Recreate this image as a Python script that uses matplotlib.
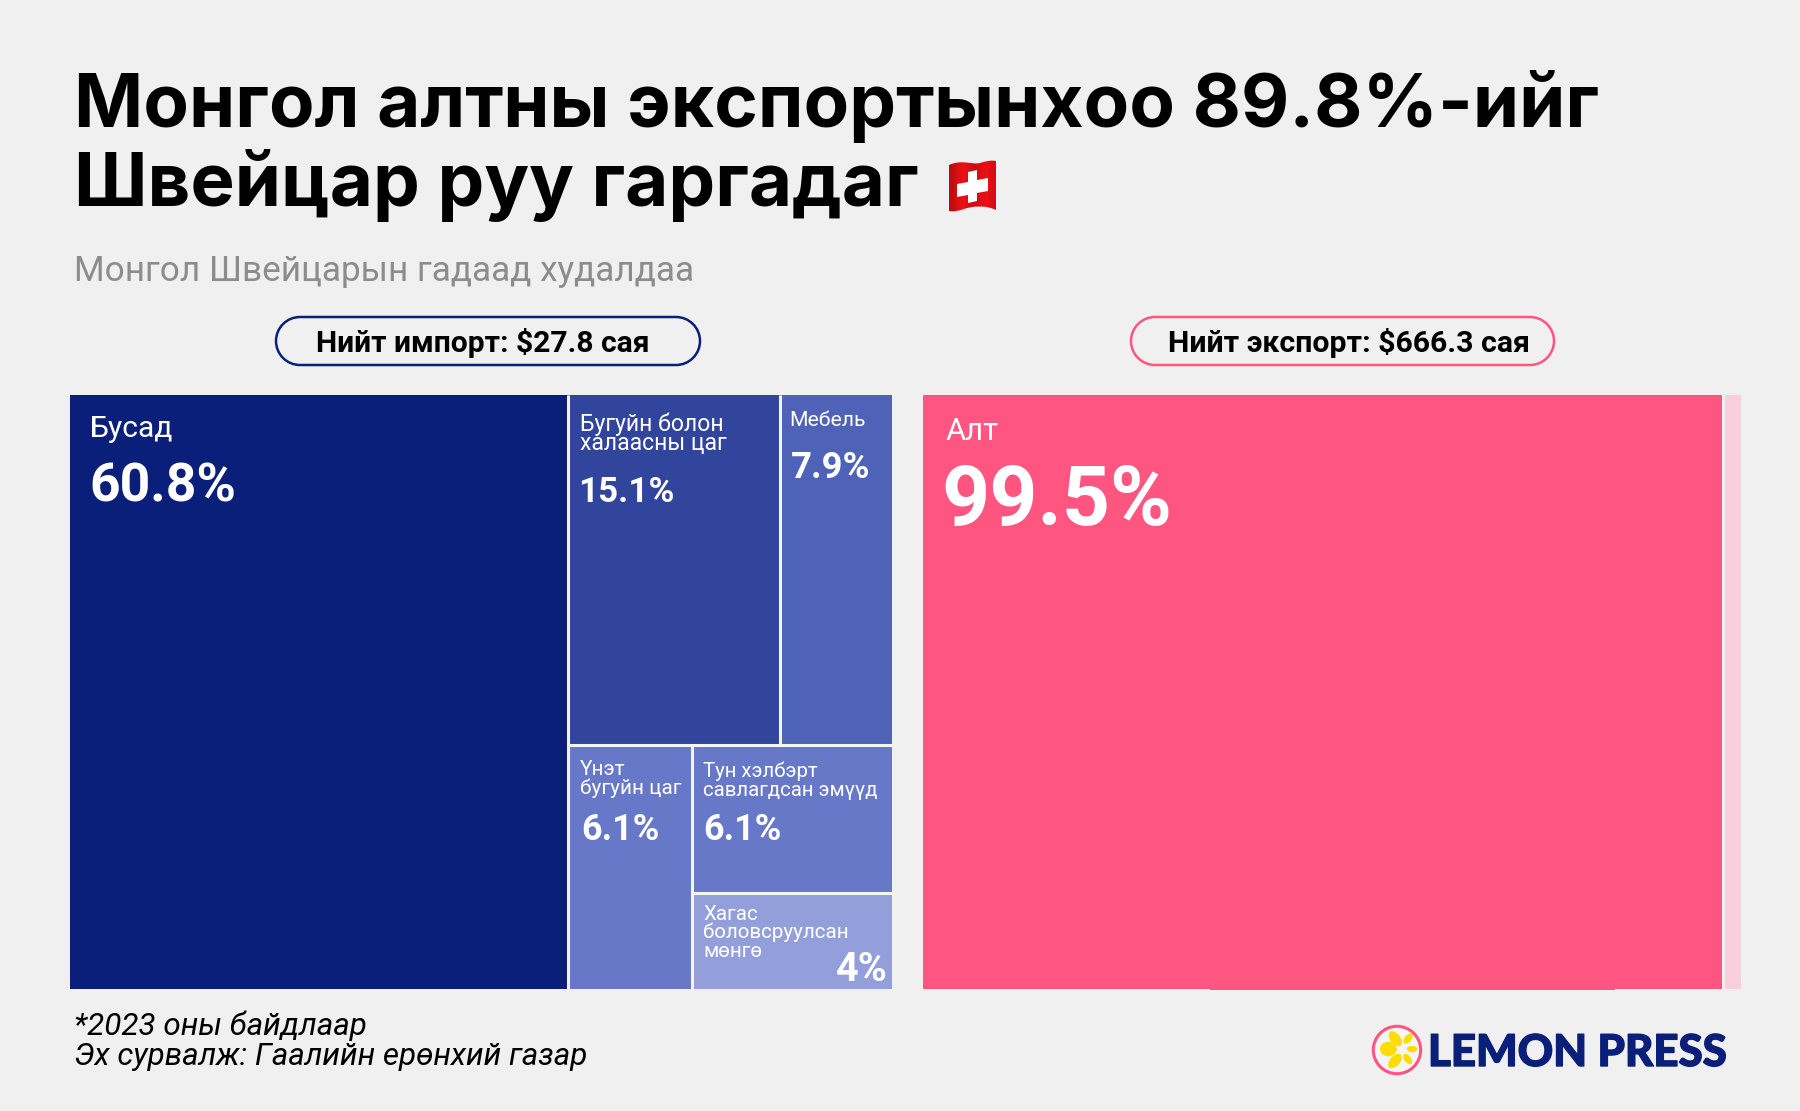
import numpy as np
import matplotlib
matplotlib.use("Agg")
import matplotlib.pyplot as plt
from matplotlib.patches import Rectangle, Circle, Ellipse, PathPatch, Polygon
from matplotlib.path import Path
import matplotlib.patheffects as pe

BG = "#F0F0F0"
NAVY = "#0A1F7A"
PINK = "#FF5580"
GAP = "#F4F4F4"

title_lines = ["Монгол алтны экспортынхоо 89.8%-ийг", "Швейцар руу гаргадаг"]
subtitle = "Монгол Швейцарын гадаад худалдаа"
import_total = "Нийт импорт: $27.8 сая"
export_total = "Нийт экспорт: $666.3 сая"
footer_lines = ["*2023 оны байдлаар", "Эх сурвалж: Гаалийн ерөнхий газар"]
logo_text = "LEMON PRESS"

import_labels = ["Бусад", "Бугуйн болон\nхалаасны цаг", "Мебель", "Үнэт\nбугуйн цаг",
                 "Тун хэлбэрт\nсавлагдсан эмүүд", "Хагас\nболовсруулсан\nмөнгө"]
import_values = [60.8, 15.1, 7.9, 6.1, 6.1, 4.0]
import_colors = ["#0A1F7A", "#30459B", "#4E62B8", "#6778C8", "#6778C8", "#939FDA"]

export_label = "Алт"
export_value = 99.5
export_drawn_widths = [97.8, 2.2]   # as drawn in the picture
export_colors = [PINK, "#F8CFDA"]

fig = plt.figure(figsize=(18, 11.11), dpi=100, facecolor=BG)
ax = fig.add_axes([0, 0, 1, 1])
ax.set_xlim(0, 1800)
ax.set_ylim(1111, 0)
ax.axis("off")


def T(x, y, s, px, weight="normal", color="black", ha="left", style="normal", family="Roboto", lead=None, **kw):
    """Text with font size in pixels, y = baseline of first line."""
    for i, line in enumerate(s.split("\n")):
        ax.text(x, y + i * (lead or px), line, fontsize=px * 0.72, fontweight=weight, color=color,
                ha=ha, va="baseline", style=style, family=family, **kw)


def pill(x0, x1, y0, y1, color):
    r = (y1 - y0) / 2
    k = 0.5523 * r
    verts = [(x0 + r, y0), (x1 - r, y0),
             (x1 - r + k, y0), (x1, y0 + r - k), (x1, y0 + r),
             (x1, y0 + r + k), (x1 - r + k, y1), (x1 - r, y1),
             (x0 + r, y1),
             (x0 + r - k, y1), (x0, y0 + r + k), (x0, y0 + r),
             (x0, y0 + r - k), (x0 + r - k, y0), (x0 + r, y0), (x0 + r, y0)]
    codes = [Path.MOVETO, Path.LINETO] + [Path.CURVE4] * 6 + [Path.LINETO] + [Path.CURVE4] * 6 + [Path.CLOSEPOLY]
    ax.add_patch(PathPatch(Path(verts, codes), fc="none", ec=color, lw=1.8))


# Title, subtitle
T(74, 127, title_lines[0], 74.4, "bold", family="Inter")
T(74, 206, title_lines[1], 74.4, "bold", family="Inter")
T(74, 281, subtitle, 35.1, color="#8C8C8C")

# Pills
pill(276, 700, 317, 365, NAVY)
T(483, 352, import_total, 30, "bold", ha="center")
pill(1131, 1554, 317, 365, PINK)
T(1349.5, 352, export_total, 30.2, "bold", ha="center")

# Import treemap: computed from values
L, R, TOP, BOT = 70, 892, 395, 989
W, H = R - L, BOT - TOP
tot = sum(import_values)
v = import_values
x1 = L + W * v[0] / tot - 1.3
rest = tot - v[0]
ymid = TOP + H * (v[1] + v[2]) / rest + 1.5
xtop = x1 + (R - x1) * v[1] / (v[1] + v[2]) - 0.5
xbot = x1 + (R - x1) * v[3] / (v[3] + v[4] + v[5]) + 1.3
ylow = ymid + (BOT - ymid) * v[4] / (v[4] + v[5]) + 1
rects = [(L, TOP, x1, BOT), (x1, TOP, xtop, ymid), (xtop, TOP, R, ymid),
         (x1, ymid, xbot, BOT), (xbot, ymid, R, ylow), (xbot, ylow, R, BOT)]
for (a, b, c, d), col in zip(rects, import_colors):
    ax.add_patch(Rectangle((a, b), c - a, d - b, fc=col, ec="none"))
for xs, ys in [((x1, x1), (TOP, BOT)), ((x1, R), (ymid, ymid)), ((xtop, xtop), (TOP, ymid)),
               ((xbot, xbot), (ymid, BOT)), ((xbot, R), (ylow, ylow))]:
    ax.plot(xs, ys, color=GAP, lw=2.2, solid_capstyle="butt")

fmt = lambda p: f"{p:g}%"
T(90, 437, import_labels[0], 30, color="white")
T(89, 502, fmt(v[0]), 53.5, "bold", color="white")
T(579.5, 431, import_labels[1], 23, color="white", lead=19.5)
T(578, 502, fmt(v[1]), 35, "bold", color="white")
T(789, 426, import_labels[2], 21.2, color="white")
T(791, 477.5, fmt(v[2]), 36.5, "bold", color="white")
T(579.5, 775, import_labels[3], 20.8, color="white", lead=19)
T(581, 840, fmt(v[3]), 36, "bold", color="white")
T(703, 777, import_labels[4], 20.4, color="white", lead=19)
T(703, 840, fmt(v[4]), 36, "bold", color="white")
T(703, 920, import_labels[5], 20.5, color="white", lead=18.5)
T(887.5, 981, fmt(v[5]), 39.5, "bold", color="white", ha="right")

# Export treemap
EL, ER = 923, 1741
ew = ER - EL
split = EL + ew * export_drawn_widths[0] / sum(export_drawn_widths)
ax.add_patch(Rectangle((EL, TOP), split - 1.5 - EL, BOT - TOP, fc=export_colors[0], ec="none"))
ax.add_patch(Rectangle((1210, BOT - 1), 405, 2, fc=export_colors[0], ec="none"))
ax.add_patch(Rectangle((split + 1.5, TOP), ER - split - 1.5, BOT - TOP, fc=export_colors[1], ec="none"))
T(946, 440, export_label, 31, color="white")
T(941, 525.5, fmt(export_value), 84, "bold", color="white")

# Footer
T(74, 1035, footer_lines[0], 31.4, style="italic")
T(74, 1065, footer_lines[1], 31.4, style="italic")

# Flag
verts = [(949, 165), (962, 159), (972, 165), (980, 163), (986, 161), (992, 160), (996, 161),
         (996, 210), (986, 205), (972, 206), (964, 209), (958, 211), (953, 212), (949, 211), (949, 165)]
codes = [Path.MOVETO] + [Path.CURVE4] * 6 + [Path.LINETO] + [Path.CURVE4] * 6 + [Path.CLOSEPOLY]
flag_patch = PathPatch(Path(verts, codes), fc="none", ec="none")
ax.add_patch(flag_patch)
shade = np.array([[0.80, 0.93, 1.0, 0.92, 0.84, 0.95, 1.0, 0.90]])
rgb = np.dstack([0.93 * shade, 0.06 * shade, 0.08 * shade])
im = ax.imshow(rgb, extent=(949, 996, 212, 159), aspect="auto", interpolation="bilinear", zorder=2)
im.set_clip_path(flag_patch)
ax.set_xlim(0, 1800)
ax.set_ylim(1111, 0)
ax.add_patch(Polygon([(957, 184), (968, 182), (968, 172), (977, 170), (977, 180), (988, 178), (988, 191),
                      (977, 193), (977, 201), (968, 203), (968, 195), (957, 197)], fc="white", ec="none", zorder=3))

# Logo
ax.add_patch(Circle((1397, 1050), 23.7, fc="#F5F5F5", ec=PINK, lw=2.2))
Z = lambda a, b: (1340 + a / 3, 960 + b / 3)
for (zx, zy, w, h, a) in [(145, 267, 50, 44, 0), (166, 236, 52, 30, 51), (204, 236, 36, 21, -51),
                          (216, 267, 32, 19, 0), (203, 297, 36, 20, 54), (165, 303, 52, 30, -48)]:
    ax.add_patch(Ellipse(Z(zx, zy), w / 3, h / 3, angle=a, fc="#FFDD00", ec="none"))
ax.add_patch(Polygon([Z(172, 268), Z(150, 245), Z(150, 290)], fc="#FFDD00", ec="none"))
T(1428, 1066, logo_text, 43.8, weight="black", color=NAVY, family="Lato",
  path_effects=[pe.withStroke(linewidth=1.0, foreground=NAVY)])

fig.savefig("out.png", dpi=100, facecolor=BG)
